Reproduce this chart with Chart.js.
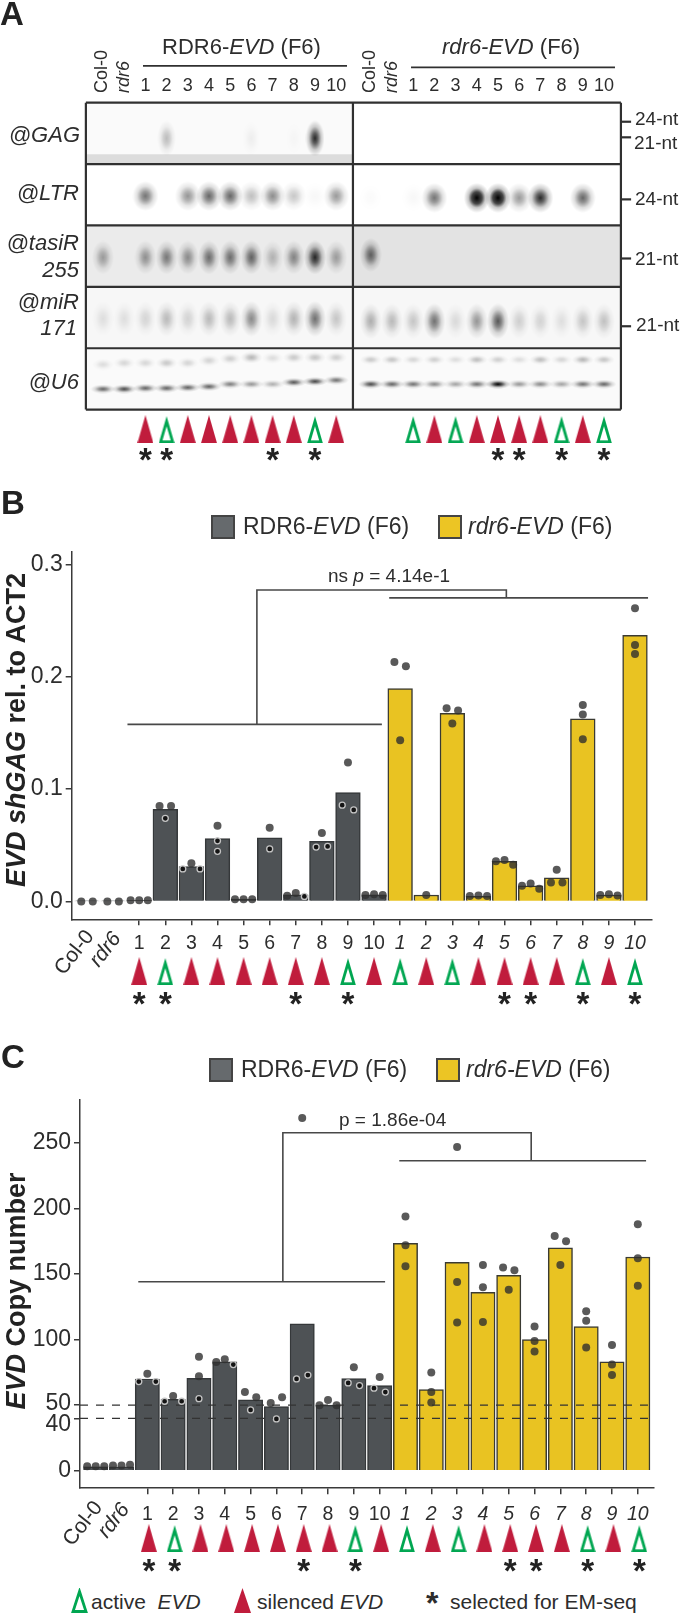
<!DOCTYPE html>
<html>
<head>
<meta charset="utf-8">
<title>EVD shGAG and copy number</title>
<script src="https://cdn.jsdelivr.net/npm/chart.js@4/dist/chart.umd.js"></script>
<style>
html, body { margin: 0; background: #fff; }
#page { position: relative; width: 680px; height: 1613px; overflow: hidden; background: #fff;
  font-family: "Liberation Sans", Arial, sans-serif; color: #2d2d2d; }
canvas { position: absolute; left: 0; display: block; }
.t { position: absolute; white-space: nowrap; line-height: 1; transform: translateY(-50%); }
.r { position: absolute; white-space: nowrap; line-height: 1; text-align: right; transform: translate(-100%, -50%); font-style: italic; font-size: 22px; }
.rot { position: absolute; white-space: nowrap; line-height: 1; font-weight: bold; font-size: 27px; transform: translate(-50%, -50%) rotate(-90deg); color: #222; }
.panel { position: absolute; font-weight: bold; font-size: 33px; line-height: 1; color: #222; }
.sw { position: absolute; box-sizing: border-box; border: 2px solid #444; }
svg { position: absolute; }
</style>
</head>
<body>
<div id="page">
  <canvas id="blot" width="680" height="471" style="top:0"></canvas>
  <canvas id="markersB" width="680" height="57" style="top:954px"></canvas>
  <canvas id="chartB" width="680" height="1000" style="top:0"></canvas>
  <canvas id="markersC" width="680" height="57" style="top:1521px"></canvas>
  <canvas id="chartC" width="680" height="1570" style="top:0"></canvas>

  <div class="panel" style="left:0;top:-3px">A</div>
  <div class="t" style="left:162px;top:47px;font-size:22px">RDR6-<i>EVD</i> (F6)</div>
  <div class="t" style="left:442px;top:47px;font-size:22px"><i>rdr6-EVD</i> (F6)</div>
  <div class="r" style="left:80px;top:135px">@GAG</div>
  <div class="r" style="left:79px;top:193px">@LTR</div>
  <div class="r" style="left:79px;top:243px">@tasiR</div>
  <div class="r" style="left:79px;top:270px">255</div>
  <div class="r" style="left:79px;top:302px">@miR</div>
  <div class="r" style="left:77px;top:328px">171</div>
  <div class="r" style="left:79px;top:382px">@U6</div>
  <div class="t" style="left:635px;top:118px;font-size:19px">24-nt</div>
  <div class="t" style="left:634px;top:142px;font-size:19px">21-nt</div>
  <div class="t" style="left:635px;top:198px;font-size:19px">24-nt</div>
  <div class="t" style="left:635px;top:258px;font-size:19px">21-nt</div>
  <div class="t" style="left:636px;top:324px;font-size:19px">21-nt</div>

  <div class="panel" style="left:1px;top:486px">B</div>
  <div class="sw" style="left:211px;top:515px;width:24px;height:24px;background:#666a6d"></div>
  <div class="t" style="left:243px;top:526px;font-size:23px">RDR6-<i>EVD</i> (F6)</div>
  <div class="sw" style="left:438px;top:515px;width:24px;height:24px;background:#ecc524"></div>
  <div class="t" style="left:468px;top:526px;font-size:23px"><i>rdr6-EVD</i> (F6)</div>
  <div class="t" style="left:328px;top:575px;font-size:19px">ns <i>p</i> = 4.14e-1</div>
  <div class="rot" style="left:16px;top:730px"><i>EVD shGAG</i> rel. to ACT2</div>

  <div class="panel" style="left:1px;top:1040px">C</div>
  <div class="sw" style="left:209px;top:1058px;width:24px;height:24px;background:#666a6d"></div>
  <div class="t" style="left:241px;top:1069px;font-size:23px">RDR6-<i>EVD</i> (F6)</div>
  <div class="sw" style="left:436px;top:1058px;width:24px;height:24px;background:#ecc524"></div>
  <div class="t" style="left:466px;top:1069px;font-size:23px"><i>rdr6-EVD</i> (F6)</div>
  <div class="t" style="left:339px;top:1119px;font-size:19px">p = 1.86e-04</div>
  <div class="rot" style="left:16px;top:1291px"><i>EVD</i> Copy number</div>

  <svg style="left:71px;top:1588px" width="17" height="25"><polygon points="8.5,3.5 15,23.5 2,23.5" fill="none" stroke="#00a651" stroke-width="2.8"/></svg>
  <div class="t" style="left:91px;top:1601px;font-size:21px">active&nbsp; <i>EVD</i></div>
  <svg style="left:234px;top:1588px" width="17" height="25"><polygon points="8.5,0 17,25 0,25" fill="#c01c3c"/></svg>
  <div class="t" style="left:257px;top:1601px;font-size:21px">silenced <i>EVD</i></div>
  <div class="t" style="left:426px;top:1603px;font-size:32px;font-weight:bold">*</div>
  <div class="t" style="left:450px;top:1601px;font-size:21px">selected for EM-seq</div>
</div>

<script>
// sample names shared by all panels
const controlNames = ['Col-0', 'rdr6'];
const sampleNumbers = ['1', '2', '3', '4', '5', '6', '7', '8', '9', '10'];
const activeRDR6 = [0, 1, 0, 0, 0, 0, 0, 0, 1, 0];
const activeRdr6 = [1, 0, 1, 0, 0, 0, 0, 1, 0, 1];
const selectedRDR6 = [1, 1, 0, 0, 0, 0, 1, 0, 1, 0];
const selectedRdr6 = [0, 0, 0, 0, 1, 1, 0, 1, 0, 1];

// panel B, shGAG
const barsB_RDR6 = [0.0005, 0.0005, 0.001, 0.082, 0.031, 0.056, 0.002, 0.0567, 0.006, 0.0535, 0.097, 0.006];
const barsB_rdr6 = [0.1895, 0.0057, 0.1675, 0.0045, 0.0357, 0.014, 0.021, 0.1627, 0.0057, 0.237];
const dotsB_RDR6 = [[0, 0], [0, 0], [0.001, 0.001, 0.001], [0.085, 0.085, 0.074], [0.029, 0.034, 0.029],
  [0.0675, 0.054, 0.0446], [0.002, 0.002, 0.002], [0.0656, 0.0468], [0.005, 0.0076, 0.0045],
  [0.061, 0.0484, 0.049], [0.1238, 0.0857, 0.0815], [0.0057, 0.0063, 0.0057]];
const dotsB_rdr6 = [[0.2133, 0.2095, 0.1436], [0.0057], [0.172, 0.17, 0.1585], [0.0048, 0.0052, 0.0048],
  [0.0357, 0.0368, 0.0327], [0.014, 0.0159, 0.0114], [0.0283, 0.0169, 0.0169], [0.175, 0.1665, 0.1445],
  [0.0057, 0.0063, 0.0054], [0.2611, 0.2283, 0.2204]];
const ticksB = [0, 0.1, 0.2, 0.3];
const bracketsB = [
  [[1.55, 0.1577], [11.3, 0.1577]],
  [[6.51, 0.1577], [6.51, 0.2773], [16.07, 0.2773], [16.07, 0.2703]],
  [[11.58, 0.2703], [21.5, 0.2703]]
];

// panel C, copy number
const barsC_RDR6 = [3, 3, 70, 54.5, 70.5, 83, 54, 49, 112, 50, 70.3, 65];
const barsC_rdr6 = [173.5, 62, 159, 136, 149, 100, 170, 110, 83, 163];
const dotsC_RDR6 = [[3.5, 3.5, 3.5], [4, 4, 4.5], [68, 74, 68], [53, 57, 53], [87, 72, 55], [83, 85, 81],
  [60, 56, 46.4], [51.6, 56, 39.5], [269, 70, 73], [50, 54, 50], [79, 67, 65], [71.5, 63, 60]];
const dotsC_rdr6 = [[194, 172, 156], [75, 60, 52], [247, 144, 113], [157, 140, 113.5], [155, 153, 138],
  [110, 99, 91], [179, 175, 157], [121.6, 114.4, 94], [96, 81, 73], [188, 162, 141]];
const ticksC = [0, 40, 50, 100, 150, 200, 250];
const thresholdsC = [50, 40];
const bracketsC = [
  [[1.65, 144.2], [11.21, 144.2]],
  [[7.25, 144.2], [7.25, 257.8], [16.87, 257.8], [16.87, 236.4]],
  [[11.76, 236.4], [21.32, 236.4]]
];

// panel A, band strength per lane (Col-0, rdr6, 1..10)
const gagRDR6 = [0, 0, 0, 0.25, 0, 0, 0, 0.05, 0, 0.02, 0.85, 0];
const ltrRDR6 = [0, 0, 0.55, 0, 0.42, 0.6, 0.6, 0.25, 0.45, 0.22, 0.03, 0.4];
const ltrRdr6 = [0.02, 0, 0.03, 0.55, 0, 1.15, 1.4, 0.4, 0.85, 0, 0.6, 0];
const tasiRDR6 = [0.35, 0, 0.4, 0.5, 0.42, 0.55, 0.55, 0.6, 0.25, 0.45, 0.85, 0.35];
const tasiRdr6 = [0.6, 0, 0, 0, 0, 0, 0, 0, 0, 0, 0, 0];
const mirRDR6 = [0.1, 0.1, 0.14, 0.25, 0.15, 0.25, 0.25, 0.45, 0.12, 0.28, 0.55, 0.2];
const mirRdr6 = [0.3, 0.25, 0.2, 0.55, 0.12, 0.4, 0.65, 0.17, 0.15, 0.1, 0.2, 0.22];
const u6LowRDR6 = [0.6, 0.7, 0.6, 0.6, 0.6, 0.6, 0.5, 0.4, 0.3, 0.65, 0.7, 0.55];
const u6LowRdr6 = [0.7, 0.6, 0.55, 0.45, 0.35, 0.55, 1, 0.4, 0.45, 0.35, 0.55, 0.6];
const u6HighRDR6 = [0.12, 0.14, 0.14, 0.2, 0.15, 0.16, 0.18, 0.28, 0.12, 0.2, 0.22, 0.18];
const u6HighRdr6 = [0.2, 0.22, 0.15, 0.18, 0.12, 0.25, 0.18, 0.12, 0.25, 0.15, 0.28, 0.22];
const u6LowRunRDR6 = [4.665, 4.665, 4.65, 4.65, 4.64, 4.625, 4.585, 4.585, 4.585, 4.555, 4.54, 4.52];
const u6HighRunRDR6 = [4.266, 4.24, 4.24, 4.24, 4.24, 4.2, 4.17, 4.15, 4.16, 4.15, 4.15, 4.15];

const ink = '#2d2d2d';
const axisInk = '#3a3a3a';
const fontFamily = '"Liberation Sans", Arial, sans-serif';
const sprites = {};

function triangleSprite(w, h, filled) {
  const c = document.createElement('canvas');
  c.width = w;
  c.height = h;
  const g = c.getContext('2d');
  if (filled) {
    g.fillStyle = '#c01c3c';
    g.beginPath();
    g.moveTo(w / 2, 0);
    g.lineTo(w, h);
    g.lineTo(0, h);
    g.closePath();
    g.fill();
  } else {
    g.strokeStyle = '#00a651';
    g.lineWidth = 2.8;
    g.beginPath();
    g.moveTo(w / 2, 6);
    g.lineTo(w - 2, h - 1.4);
    g.lineTo(2, h - 1.4);
    g.closePath();
    g.stroke();
  }
  return c;
}

function bandSprite(strength, w, h) {
  const key = strength + '_' + w + '_' + h;
  if (sprites[key]) return sprites[key];
  const c = document.createElement('canvas');
  c.width = w;
  c.height = h;
  const g = c.getContext('2d');
  g.translate(w / 2, h / 2);
  g.scale(w / 2, h / 2);
  const grad = g.createRadialGradient(0, 0, 0, 0, 0, 1);
  const a = Math.min(strength, 1);
  grad.addColorStop(0, 'rgba(0,0,0,' + a + ')');
  grad.addColorStop(strength > 1 ? 0.4 : 0.3, 'rgba(0,0,0,' + a * 0.72 + ')');
  grad.addColorStop(0.65, 'rgba(0,0,0,' + a * 0.22 + ')');
  grad.addColorStop(1, 'rgba(0,0,0,0)');
  g.fillStyle = grad;
  g.fillRect(-1, -1, 2, 2);
  sprites[key] = c;
  return c;
}

// dots with nearly the same value sit side by side, like a dotplot
function swarm(center, values, tolerance) {
  const groups = [];
  values.forEach((v) => {
    const last = groups[groups.length - 1];
    if (last && Math.abs(v - last[0]) < tolerance) last.push(v);
    else groups.push([v]);
  });
  const out = [];
  groups.forEach((g) => {
    const step = g.length === 2 ? 0.44 : 0.33;
    g.forEach((v, i) => out.push({ x: center + (i - (g.length - 1) / 2) * step, y: v }));
  });
  return out;
}

function rotatedLabelsPlugin(offsets, angle, font) {
  return {
    id: 'rotatedLabels',
    afterDraw(chart) {
      const ctx = chart.ctx;
      const sx = chart.scales.x;
      controlNames.forEach((name, i) => {
        ctx.save();
        ctx.translate(sx.getPixelForValue(offsets.values[i]) + offsets.dx[i], offsets.y[i]);
        ctx.rotate(angle);
        ctx.font = (i === 1 ? 'italic ' : '') + font + ' ' + fontFamily;
        ctx.fillStyle = ink;
        ctx.textAlign = offsets.align;
        ctx.textBaseline = 'middle';
        ctx.fillText(name, 0, 0);
        ctx.restore();
      });
    }
  };
}

function lineDataset(points, color, width, dash, order) {
  return {
    type: 'line',
    data: points.map((p) => ({ x: p[0], y: p[1] })),
    borderColor: color,
    borderWidth: width,
    borderDash: dash || [],
    pointRadius: 0,
    fill: false,
    tension: 0,
    clip: false,
    order: order
  };
}

function barPanel(id, o) {
  const allDots = [];
  o.dotsA.forEach((vals, i) => {
    swarm(i, vals, o.tolerance).forEach((p) => allDots.push({ ...p, inside: p.y < o.barsA[i] - o.ringMargin && o.barsA[i] > o.ringMinBar }));
  });
  o.dotsB.forEach((vals, i) => {
    swarm(i + o.barsA.length, vals, o.tolerance).forEach((p) => allDots.push({ ...p, inside: false }));
  });

  const datasets = [
    {
      type: 'bar', grouped: false, order: 5, barThickness: o.barWidth,
      data: o.barsA.map((v, i) => ({ x: i, y: v })),
      backgroundColor: '#4e5255', borderColor: '#35383a', borderWidth: 1.5
    },
    {
      type: 'bar', grouped: false, order: 5, barThickness: o.barWidth,
      data: o.barsB.map((v, i) => ({ x: i + o.barsA.length, y: v })),
      backgroundColor: '#e9c322', borderColor: '#3a3a32', borderWidth: 1.5
    },
    {
      type: 'line', showLine: false, order: 1, clip: false,
      data: allDots,
      pointRadius: allDots.map((d) => (d.inside ? 3 : 4)),
      pointBackgroundColor: allDots.map((d) => (d.inside ? '#141414' : 'rgba(48,48,48,0.8)')),
      pointBorderColor: allDots.map((d) => (d.inside ? '#c4c4c4' : 'rgba(48,48,48,0)')),
      pointBorderWidth: allDots.map((d) => (d.inside ? 1.3 : 0))
    }
  ];
  o.brackets.forEach((b) => datasets.push(lineDataset(b, '#484848', 1.6, null, 3)));
  (o.thresholds || []).forEach((t) => {
    datasets.push(lineDataset([[o.xMin, t], [o.xMax, t]], '#333', 1.3, [8, 8], 2));
  });

  const numbered = sampleNumbers.concat(sampleNumbers);
  const tickValues = numbered.map((n, i) => i + 2);

  const plugins = [rotatedLabelsPlugin(
    { values: [0, 1], dx: o.rotDx, y: o.rotY, align: 'right' },
    -52 * Math.PI / 180, '21px')];
  if (o.shiftedLabels) {
    plugins.push({
      id: 'shiftedLabels',
      afterDraw(chart) {
        const ctx = chart.ctx;
        const sy = chart.scales.y;
        ctx.save();
        ctx.font = '23px ' + fontFamily;
        ctx.fillStyle = ink;
        ctx.textAlign = 'right';
        ctx.textBaseline = 'middle';
        o.shiftedLabels.forEach((l) => {
          ctx.fillText(String(l.value), chart.chartArea.left - 9, sy.getPixelForValue(l.value) + l.dy);
        });
        ctx.restore();
      }
    });
  }

  return new Chart(document.getElementById(id), {
    type: 'bar',
    data: { datasets: datasets },
    plugins: plugins,
    options: {
      responsive: false,
      animation: false,
      devicePixelRatio: 1,
      events: [],
      layout: { autoPadding: false, padding: { top: o.top, right: 680 - o.right, left: 0, bottom: 0 } },
      plugins: { legend: { display: false }, tooltip: { enabled: false } },
      scales: {
        x: {
          type: 'linear', min: o.xMin, max: o.xMax, offset: false,
          afterBuildTicks(s) { s.ticks = tickValues.map((v) => ({ value: v })); },
          afterFit(s) { s.height = o.canvasH - o.bottom; },
          grid: { offset: false, drawOnChartArea: false, drawTicks: true, tickLength: 6, color: axisInk, lineWidth: 1.5 },
          border: { display: true, color: axisInk, width: 1.5 },
          ticks: {
            autoSkip: false, maxRotation: 0, minRotation: 0, padding: o.xPad, color: ink,
            font: (c) => ({ family: fontFamily, size: 19.5, style: c.index >= 10 ? 'italic' : 'normal' }),
            callback: (v, i) => numbered[i]
          }
        },
        y: {
          min: o.yMin, max: o.yMax,
          afterBuildTicks(s) { s.ticks = o.ticks.map((v) => ({ value: v })); },
          afterFit(s) { s.width = o.left; },
          grid: { drawOnChartArea: false, drawTicks: true, tickLength: 6, color: axisInk, lineWidth: 1.5 },
          border: { display: true, color: axisInk, width: 1.5 },
          ticks: {
            autoSkip: false, padding: 3, color: ink,
            font: { family: fontFamily, size: 23 },
            callback: o.tickLabel
          }
        }
      }
    }
  });
}

function asterisksPlugin(rowValue, positions) {
  return {
    id: 'asterisks',
    afterDatasetsDraw(chart) {
      const ctx = chart.ctx;
      ctx.save();
      ctx.font = 'bold 33px ' + fontFamily;
      ctx.fillStyle = '#222';
      ctx.textAlign = 'center';
      ctx.textBaseline = 'middle';
      positions.forEach((x) => {
        ctx.fillText('*', chart.scales.x.getPixelForValue(x), chart.scales.y.getPixelForValue(rowValue) + 9);
      });
      ctx.restore();
    }
  };
}

function markerDataset(xs, flags, rowValue) {
  const active = triangleSprite(16, 28, false);
  const silenced = triangleSprite(16, 28, true);
  return {
    type: 'line', showLine: false, clip: false,
    data: xs.map((x) => ({ x: x, y: rowValue })),
    pointRadius: 8,
    pointStyle: flags.map((f) => (f ? active : silenced))
  };
}

function markerStrip(id, o) {
  const flags = activeRDR6.concat(activeRdr6);
  const xs = flags.map((f, i) => i + 2);
  const picked = selectedRDR6.concat(selectedRdr6);
  const starXs = xs.filter((x, i) => picked[i]);
  new Chart(document.getElementById(id), {
    type: 'line',
    data: { datasets: [markerDataset(xs, flags, 0.7)] },
    plugins: [asterisksPlugin(0.25, starXs)],
    options: {
      responsive: false, animation: false, devicePixelRatio: 1, events: [],
      layout: { autoPadding: false, padding: { left: o.left + o.shift, right: 680 - o.right - o.shift, top: 0, bottom: 0 } },
      plugins: { legend: { display: false }, tooltip: { enabled: false } },
      scales: {
        x: { type: 'linear', min: o.xMin, max: o.xMax, display: false },
        y: { min: 0, max: 1, display: false }
      }
    }
  });
}

barPanel('chartB', {
  canvasH: 1000, top: 551.4, bottom: 919.3, left: 71.7, right: 651.7,
  xMin: -0.587, xMax: 21.64, yMin: -0.0159, yMax: 0.3117,
  barWidth: 24.7, tolerance: 0.0065, ringMargin: 0.0015, ringMinBar: 0.0055,
  barsA: barsB_RDR6, barsB: barsB_rdr6, dotsA: dotsB_RDR6, dotsB: dotsB_rdr6,
  brackets: bracketsB, ticks: ticksB, tickLabel: (v) => v.toFixed(1),
  xPad: 6.5, rotDx: [3, 4], rotY: [933, 935]
});

barPanel('chartC', {
  canvasH: 1570, top: 1100.2, bottom: 1488.2, left: 80, right: 653.3,
  xMin: -0.608, xMax: 21.6, yMin: -13.3, yMax: 282.6,
  barWidth: 24.3, tolerance: 6.5, ringMargin: 1, ringMinBar: 5,
  barsA: barsC_RDR6, barsB: barsC_rdr6, dotsA: dotsC_RDR6, dotsB: dotsC_rdr6,
  brackets: bracketsC, ticks: ticksC, thresholds: thresholdsC,
  tickLabel: (v) => (thresholdsC.includes(v) ? '' : String(v)),
  shiftedLabels: [{ value: 50, dy: -2 }, { value: 40, dy: 6 }],
  xPad: 9, rotDx: [3, 4], rotY: [1504, 1506]
});

markerStrip('markersB', { left: 71.7, right: 651.7, shift: 0, xMin: -0.587, xMax: 21.64 });
markerStrip('markersC', { left: 80, right: 653.3, shift: 1.5, xMin: -0.608, xMax: 21.6 });

// panel A: lanes on a linear scale, rows of the blot on a reversed one
const rightLaneStart = 12.63;
const laneX = (i) => i;
const rdr6Lanes = (i) => i + rightLaneStart;
const frameLeft = -0.807;
const frameMiddle = 11.79;
const frameRight = 24.43;
const laneTickValues = sampleNumbers.map((n, i) => i + 2).concat(sampleNumbers.map((n, i) => rdr6Lanes(i + 2)));

function bandDataset(strengths, toX, row, w, h) {
  const rows = Array.isArray(row) ? row : strengths.map(() => row);
  const pts = [];
  const styles = [];
  strengths.forEach((s, i) => {
    if (s <= 0) return;
    pts.push({ x: toX(i), y: rows[i] });
    styles.push(bandSprite(s, w, h));
  });
  return {
    type: 'line', showLine: false, order: 5,
    data: pts,
    pointRadius: 5,
    pointStyle: styles
  };
}

const frameLines = [0, 1, 2, 3, 4, 5].map((r) => lineDataset([[frameLeft, r], [frameRight, r]], '#303030', 2.2, null, 1));
[frameLeft, frameMiddle, frameRight].forEach((x) => {
  frameLines.push(lineDataset([[x, 0], [x, 5]], '#303030', 2.2, null, 1));
});
const sizeMarks = [0.31, 0.564, 1.575, 2.538, 3.642].map((r) => lineDataset([[frameRight, r], [24.91, r]], '#303030', 2.2, null, 1));
const headerLines = [
  lineDataset([[1.887, -0.6], [11.51, -0.6]], '#303030', 1.8, null, 1),
  lineDataset([[14.53, -0.577], [24.15, -0.577]], '#303030', 1.8, null, 1)
];

const blotPicked = selectedRDR6.map((f, i) => (f ? i + 2 : null))
  .concat(selectedRdr6.map((f, i) => (f ? rdr6Lanes(i + 2) : null)))
  .filter((x) => x !== null);

const rowTints = [
  { x0: frameLeft, x1: frameMiddle, y0: 2, y1: 3, color: '#ebebeb' },
  { x0: frameMiddle, x1: frameRight, y0: 2, y1: 3, color: '#e3e3e3' },
  { x0: frameLeft, x1: frameMiddle, y0: 0, y1: 1, color: '#fafafa' },
  { x0: frameLeft, x1: frameMiddle, y0: 0.84, y1: 1, color: '#dcdcdc' },
  { x0: frameLeft, x1: frameRight, y0: 3, y1: 4, color: '#f7f7f7' },
  { x0: frameLeft, x1: frameRight, y0: 4, y1: 5, color: '#fafafa' }
];

new Chart(document.getElementById('blot'), {
  type: 'line',
  data: {
    datasets: [
      bandDataset(gagRDR6, laneX, 0.58, 19, 36),
      bandDataset(ltrRDR6, laneX, 1.52, 26, 30),
      bandDataset(ltrRdr6, rdr6Lanes, 1.55, 26, 30),
      bandDataset(tasiRDR6, laneX, 2.52, 22, 34),
      bandDataset(tasiRdr6, rdr6Lanes, 2.48, 22, 34),
      bandDataset(mirRDR6, laneX, 3.52, 22, 36),
      bandDataset(mirRdr6, rdr6Lanes, 3.56, 22, 36),
      bandDataset(u6LowRDR6, laneX, u6LowRunRDR6, 25, 9),
      bandDataset(u6LowRdr6, rdr6Lanes, 4.585, 25, 9),
      bandDataset(u6HighRDR6, laneX, u6HighRunRDR6, 22, 12),
      bandDataset(u6HighRdr6, rdr6Lanes, 4.186, 22, 10),
      ...frameLines,
      ...sizeMarks,
      ...headerLines,
      markerDataset(laneTickValues, activeRDR6.concat(activeRdr6), 5.318)
    ]
  },
  plugins: [
    {
      id: 'rowTints',
      beforeDatasetsDraw(chart) {
        const { ctx, scales } = chart;
        rowTints.forEach((t) => {
          ctx.fillStyle = t.color;
          ctx.fillRect(scales.x.getPixelForValue(t.x0), scales.y.getPixelForValue(t.y0),
            scales.x.getPixelForValue(t.x1) - scales.x.getPixelForValue(t.x0),
            scales.y.getPixelForValue(t.y1) - scales.y.getPixelForValue(t.y0));
        });
      }
    },
    asterisksPlugin(5.71, blotPicked),
    laneNamesPlugin()
  ],
  options: {
    responsive: false, animation: false, devicePixelRatio: 1, events: [],
    layout: { autoPadding: false, padding: { top: 62.7, left: 0, right: 0, bottom: 0 } },
    plugins: { legend: { display: false }, tooltip: { enabled: false } },
    scales: {
      x: {
        type: 'linear', position: 'top', min: -4.858, max: 27.217,
        afterBuildTicks(s) { s.ticks = laneTickValues.map((v) => ({ value: v })); },
        afterFit(s) { s.height = 40; },
        grid: { display: false, drawTicks: false },
        border: { display: false },
        ticks: {
          autoSkip: false, maxRotation: 0, minRotation: 0, padding: 6, color: ink,
          font: { family: fontFamily, size: 18 },
          callback: (v, i) => sampleNumbers.concat(sampleNumbers)[i]
        }
      },
      y: { reverse: true, min: 0, max: 6, display: false }
    }
  }
});

// both Col-0 / rdr6 pairs above the blot, read upwards
function laneNamesPlugin() {
  const first = rotatedLabelsPlugin({ values: [0, 1], dx: [-1, 0], y: [93, 93], align: 'left' }, -Math.PI / 2, '18px');
  const second = rotatedLabelsPlugin({ values: [rightLaneStart, rightLaneStart + 1], dx: [-1, 0], y: [93, 93], align: 'left' }, -Math.PI / 2, '18px');
  return {
    id: 'laneNames',
    afterDraw(chart) {
      first.afterDraw(chart);
      second.afterDraw(chart);
    }
  };
}
</script>
</body>
</html>
